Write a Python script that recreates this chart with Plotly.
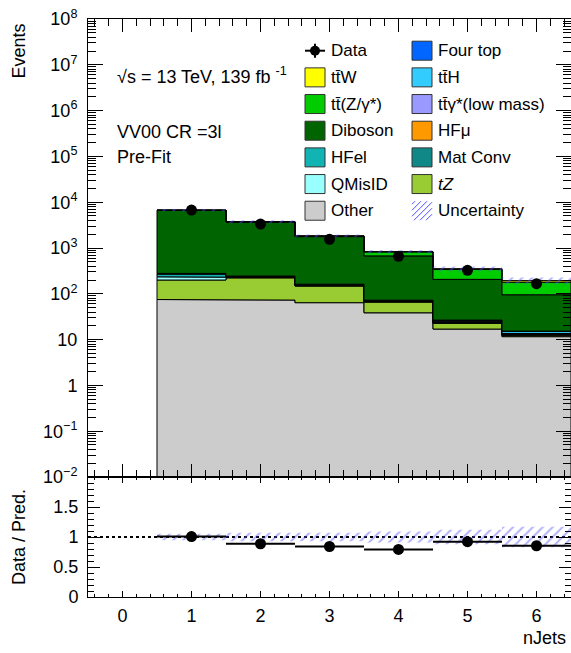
import plotly.graph_objects as go

# ---- binned content: nJets in the VV00 3l control region ----
njets = [1, 2, 3, 4, 5, 6]
data = [6750, 3330, 1550, 660, 326, 166]

other = [75, 73, 64, 38.5, 17, 11.6]
tz = [125, 150, 84, 27.5, 5.7, 0.8]
qmisid = [35, 4, 2.5, 1.2, 0.4, 0.2]
hfel = [35, 7, 4, 1.5, 0.8, 0.4]
matconv = [4, 4, 2.5, 1.0, 0.4, 0.2]
hfmu = [3, 4, 3, 1.0, 0.5, 0.2]
ttgamma = [1.0, 1.0, 0.8, 0.5, 0.3, 0.2]
tth = [0.6, 1.0, 1.2, 1.3, 1.4, 1.4]
fourtop = [0.01, 0.02, 0.05, 0.1, 0.2, 0.3]
diboson = [6400, 3450, 1610, 600, 180, 80]
ttz = [20, 50, 60, 150, 135, 85]
ttw = [4, 8, 10, 9, 12, 14]

unc_rel = [0.055, 0.07, 0.07, 0.09, 0.12, 0.17]

x_ticks = [0, 1, 2, 3, 4, 5, 6]
log_ticks = [1e-2, 1e-1, 1, 10, 1e2, 1e3, 1e4, 1e5, 1e6, 1e7, 1e8]
log_labels = ["10<sup>−2</sup>", "10<sup>−1</sup>", "1", "10", "10<sup>2</sup>",
              "10<sup>3</sup>", "10<sup>4</sup>", "10<sup>5</sup>", "10<sup>6</sup>",
              "10<sup>7</sup>", "10<sup>8</sup>"]
ratio_ticks = [0, 0.5, 1, 1.5]
ratio_labels = ["0", "0.5", "1", "1.5"]

C_OTHER, C_TZ, C_QMIS, C_HFEL = "#cccccc", "#99cc33", "#99ffff", "#11b3b3"
C_MATC, C_HFMU, C_TTG, C_TTH = "#118888", "#ff9900", "#9999ff", "#33ccff"
C_4TOP, C_VV, C_TTZ, C_TTW = "#0066ff", "#006400", "#00cc00", "#ffff00"
HATCH = "#4f4fff"

# stacking order, bottom to top
stack = [
    (other, C_OTHER), (tz, C_TZ), (qmisid, C_QMIS), (hfel, C_HFEL),
    (matconv, C_MATC), (hfmu, C_HFMU), (ttgamma, C_TTG), (tth, C_TTH),
    (fourtop, C_4TOP), (diboson, C_VV), (ttz, C_TTZ), (ttw, C_TTW),
]

FONT = "Liberation Sans, Arial, Helvetica, sans-serif"
YMIN_LOG, YMAX_LOG = -2, 8
Y_FLOOR = 10 ** YMIN_LOG

lo = [n - 0.5 for n in njets]
hi = [n + 0.5 for n in njets]


def steps(vals):
    xs, ys = [], []
    for a, b, v in zip(lo, hi, vals):
        xs += [a, b]
        ys += [v, v]
    return xs, ys


def band(lower, upper):
    xu, yu = steps(upper)
    xl, yl = steps(lower)
    return xu + xl[::-1] + [xu[0]], yu + yl[::-1] + [yu[0]]


fig = go.Figure()

# stacked backgrounds
cum = [Y_FLOOR] * len(njets)
running = [0.0] * len(njets)
for vals, col in stack:
    running = [r + v for r, v in zip(running, vals)]
    top = [max(r, Y_FLOOR) for r in running]
    xs, ys = band(cum, top)
    fig.add_trace(go.Scatter(x=xs, y=ys, mode="lines", fill="toself", fillcolor=col,
                             line=dict(color="black", width=1), hoverinfo="skip",
                             showlegend=False, xaxis="x", yaxis="y"))
    cum = top

total = running

# uncertainty hatch on the total prediction
xs, ys = band([t * (1 - u) for t, u in zip(total, unc_rel)],
              [t * (1 + u) for t, u in zip(total, unc_rel)])
pattern = dict(shape="/", fgcolor=HATCH, bgcolor="rgba(0,0,0,0)", size=7, solidity=0.25)
fig.add_trace(go.Scatter(x=xs, y=ys, mode="lines", fill="toself", fillcolor="rgba(0,0,0,0)",
                         fillpattern=pattern, line=dict(width=0), hoverinfo="skip",
                         showlegend=False, xaxis="x", yaxis="y"))

# data points
fig.add_trace(go.Scatter(x=njets, y=data, mode="markers",
                         marker=dict(color="black", size=11), showlegend=False,
                         xaxis="x", yaxis="y"))

# ratio panel
ratio = [d / t for d, t in zip(data, total)]
xs, ys = band([1 - u for u in unc_rel], [1 + u for u in unc_rel])
fig.add_trace(go.Scatter(x=xs, y=ys, mode="lines", fill="toself", fillcolor="rgba(0,0,0,0)",
                         fillpattern=pattern, line=dict(width=0), hoverinfo="skip",
                         showlegend=False, xaxis="x2", yaxis="y2"))
fig.add_trace(go.Scatter(x=njets, y=ratio, mode="markers",
                         marker=dict(color="black", size=11),
                         error_x=dict(type="data", array=[h - n for h, n in zip(hi, njets)],
                                      width=0, thickness=2, color="black"),
                         showlegend=False, xaxis="x2", yaxis="y2"))

# ---- page geometry (pixels) ----
W, H = 571, 653
L, R, T, B = 88, 571, 19, 597
SPLIT = 477


def px(x):
    return (x - L) / (R - L)


def py(y):
    return (B - y) / (B - T)


shapes = [dict(type="line", xref="paper", yref="y2", x0=0, x1=1, y0=1, y1=1,
               line=dict(color="black", width=2, dash="dot"), layer="below")]
annotations = []


def text(x, y, s, size=18, xanchor="left", angle=0, yanchor="middle"):
    annotations.append(dict(xref="paper", yref="paper", x=px(x), y=py(y), text=s,
                            showarrow=False, xanchor=xanchor, yanchor=yanchor,
                            textangle=angle, font=dict(family=FONT, size=size, color="black")))


# ---- legend (two columns) ----
rows = [50.7 + 26.67 * i for i in range(7)]
col1 = [("Data", None), ("tt\u0304W", C_TTW), ("tt\u0304(Z/γ*)", C_TTZ), ("Diboson", C_VV),
        ("HFel", C_HFEL), ("QMisID", C_QMIS), ("Other", C_OTHER)]
col2 = [("Four top", C_4TOP), ("tt\u0304H", C_TTH), ("tt\u0304γ*(low mass)", C_TTG), ("HFμ", C_HFMU),
        ("Mat Conv", C_MATC), ("<i>tZ</i>", C_TZ), ("Uncertainty", "hatch")]

for (bx0, tx), col in (((305, 329), col1), ((412, 436), col2)):
    for yc, (label, color) in zip(rows, col):
        bx1 = bx0 + 20
        if color is None:
            cx = (bx0 + bx1) / 2
            shapes.append(dict(type="line", xref="paper", yref="paper", x0=px(bx0), x1=px(bx1),
                               y0=py(yc), y1=py(yc), line=dict(color="black", width=2)))
            shapes.append(dict(type="line", xref="paper", yref="paper", x0=px(cx), x1=px(cx),
                               y0=py(yc - 7), y1=py(yc + 7), line=dict(color="black", width=2)))
            shapes.append(dict(type="circle", xref="paper", yref="paper", x0=px(cx - 5),
                               x1=px(cx + 5), y0=py(yc + 5), y1=py(yc - 5),
                               fillcolor="black", line=dict(color="black", width=0)))
        elif color == "hatch":
            y0, y1 = yc - 9.5, yc + 9.5
            c = bx0 + y0 + 3
            while c < bx1 + y1:
                xa, xb = max(bx0, c - y1), min(bx1, c - y0)
                if xb > xa:
                    shapes.append(dict(type="line", xref="paper", yref="paper",
                                       x0=px(xa), y0=py(c - xa), x1=px(xb), y1=py(c - xb),
                                       line=dict(color=HATCH, width=1)))
                c += 6
        else:
            shapes.append(dict(type="rect", xref="paper", yref="paper", x0=px(bx0), x1=px(bx1),
                               y0=py(yc + 9.5), y1=py(yc - 9.5), fillcolor=color,
                               line=dict(color="#333333", width=1)))
        text(tx, yc, label, size=17)

# ---- labels ----
text(115, 76, "√s = 13 TeV, 139 fb <sup>-1</sup>")
text(115, 132, "VV00 CR =3l")
text(115, 157, "Pre-Fit")
text(19, 22, "Events", angle=-90, xanchor="center", yanchor="top")
text(19, 537, "Data / Pred.", angle=-90, xanchor="center")
text(568, 638, "nJets", xanchor="right")

split_frac = py(SPLIT)
tickfont = dict(family=FONT, size=18, color="black")
minor_log = [k * 10.0 ** e for e in range(YMIN_LOG, YMAX_LOG) for k in range(2, 10)]

common_x = dict(range=[-0.5, 6.5], tickmode="array", tickvals=x_ticks, ticks="inside",
                mirror="ticks", showline=True, linecolor="black", linewidth=1,
                showgrid=False, zeroline=False, tickcolor="black", tickwidth=1)

fig.update_layout(
    width=W, height=H,
    margin=dict(l=L, r=W - R, t=T, b=H - B, pad=0),
    paper_bgcolor="white", plot_bgcolor="white",
    showlegend=False,
    xaxis=dict(common_x, anchor="y", domain=[0, 1], showticklabels=False, ticklen=13,
               matches="x2", minor=dict(dtick=0.2, tick0=0, ticklen=7, ticks="inside",
                                        tickcolor="black")),
    xaxis2=dict(common_x, anchor="y2", domain=[0, 1], ticklen=6, tickfont=tickfont,
                ticklabelstandoff=2,
                minor=dict(dtick=0.2, tick0=0, ticklen=3, ticks="inside", tickcolor="black")),
    yaxis=dict(type="log", range=[YMIN_LOG, YMAX_LOG], domain=[split_frac, 1], anchor="x",
               tickmode="array", tickvals=log_ticks, ticktext=log_labels, ticks="inside",
               ticklen=15, tickcolor="black", mirror="ticks", showline=True, linecolor="black",
               linewidth=1, showgrid=False, zeroline=False, tickfont=tickfont,
               ticklabelstandoff=6,
               minor=dict(tickmode="array", tickvals=minor_log, ticklen=8, ticks="inside",
                          tickcolor="black")),
    yaxis2=dict(range=[0, 2], domain=[0, split_frac], anchor="x2", tickmode="array",
                tickvals=ratio_ticks, ticktext=ratio_labels, ticks="inside", ticklen=12,
                tickcolor="black", mirror="ticks", showline=True, linecolor="black",
                linewidth=1, showgrid=False, zeroline=False, tickfont=tickfont,
                ticklabelstandoff=5,
                minor=dict(dtick=0.1, tick0=0, ticklen=6, ticks="inside", tickcolor="black")),
    shapes=shapes,
    annotations=annotations,
)

fig.write_html("out.html")
